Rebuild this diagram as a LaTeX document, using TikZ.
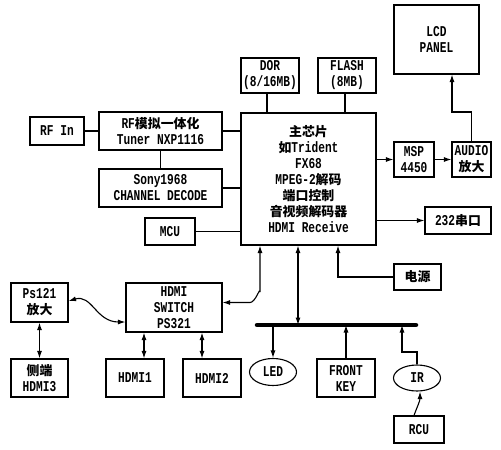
\documentclass[tikz,border=0pt]{standalone}
\usepackage{fontspec}
\setmainfont{Liberation Mono}[FakeStretch=0.745]
\newfontfamily\cjkf[Scale=0.86]{Noto Sans CJK SC}
\newcommand\zh[1]{{\cjkf #1}}
\usetikzlibrary{arrows.meta,shapes.geometric,calc}
\begin{document}
\begin{tikzpicture}[x=1pt,y=-1pt,
  every node/.style={font=\fontsize{15}{16}\selectfont\bfseries, align=center, inner sep=1pt},
  box/.style={draw, line width=1.1pt, rectangle},
  oval/.style={draw, line width=1.1pt, ellipse},
  ln/.style={line width=1.1pt},
  arr/.style={ln, -{Latex[length=7.5pt,width=5pt]}},
  darr/.style={ln, {Latex[length=7.5pt,width=5pt]}-{Latex[length=7.5pt,width=5pt]}},
]
\useasboundingbox (0,0) rectangle (501,450);

% boxes
\node[box, minimum width=54pt, minimum height=28pt] (rfin) at (57,131) {RF In};
\node[box, minimum width=123pt, minimum height=38pt] (tuner) at (160.5,131) {RF\zh{模拟一体化}\\Tuner NXP1116};
\node[box, minimum width=123pt, minimum height=38pt] (sony) at (160.5,188) {Sony1968\\CHANNEL DECODE};
\node[box, minimum width=50pt, minimum height=27pt] (mcu) at (170,231.5) {MCU};
\node[box, minimum width=135pt, minimum height=132pt] (main) at (308.5,179) {\zh{主芯片}\\\zh{如}Trident\\FX68\\MPEG-2\zh{解码}\\\zh{端口控制}\\\zh{音视频解码器}\\HDMI Receive};
\node[box, minimum width=58pt, minimum height=35pt] (dor) at (270,75.5) {DOR\\(8/16MB)};
\node[box, minimum width=58pt, minimum height=35pt] (flash) at (347,75.5) {FLASH\\(8MB)};
\node[box, minimum width=85pt, minimum height=69pt] (lcd) at (436.5,39.5) {LCD\\PANEL};
\node[box, minimum width=40pt, minimum height=35pt] (msp) at (414,159.5) {MSP\\4450};
\node[box, minimum width=39pt, minimum height=35pt] (audio) at (471.5,159.5) {AUDIO\\\zh{放大}};
\node[box, minimum width=66pt, minimum height=27pt] (ser) at (458,220.5) {232\zh{串口}};
\node[box, minimum width=47pt, minimum height=26pt] (power) at (417.5,277) {\zh{电源}};
\node[box, minimum width=57pt, minimum height=39pt] (ps) at (39.5,302.5) {Ps121\\\zh{放大}};
\node[box, minimum width=96pt, minimum height=49pt] (hsw) at (174,307.5) {HDMI\\SWITCH\\PS321};
\node[box, minimum width=57pt, minimum height=38pt] (h3) at (39.5,378) {\zh{侧端}\\HDMI3};
\node[box, minimum width=58pt, minimum height=38pt] (h1) at (135,378) {HDMI1};
\node[box, minimum width=58pt, minimum height=38pt] (h2) at (212,378) {HDMI2};
\node[box, minimum width=58pt, minimum height=38pt] (fk) at (346,378) {FRONT\\KEY};
\node[box, minimum width=50pt, minimum height=27pt] (rcu) at (419,429.5) {RCU};
\node[oval, minimum width=47pt, minimum height=27pt] (led) at (273,372) {LED};
\node[oval, minimum width=47pt, minimum height=26pt] (ir) at (417,378) {IR};

% bus
\coordinate (busL) at (257,325);
\coordinate (busR) at (416,325);
\coordinate (busM) at (298,325);
\coordinate (irturn) at (402,352);
\coordinate (lcdturn) at (452,112);
\coordinate (sw1) at (250,302.5);
\coordinate (sw2) at (260,292);
\draw[line width=4.5pt, line cap=round] (busL) -- (busR);

% connectors
\draw[ln] (rfin) -- (tuner);
\draw[ln] (tuner.east) -- (tuner.east -| main.west);
\draw[ln] (tuner) -- (sony);
\draw[ln] (sony.east) -- (sony.east -| main.west);
\draw[ln] (mcu.east) -- (mcu.east -| main.west);
\draw[ln] ([xshift=-3pt]dor.south) -- ([xshift=-3pt]dor.south |- main.north);
\draw[ln] ([xshift=-2pt]flash.south) -- ([xshift=-2pt]flash.south |- main.north);
\draw[arr] (msp.west -| main.east) -- (msp.west);
\draw[arr] (msp) -- (audio);
\draw[arr] (audio.north) |- (lcdturn) -- (lcdturn |- lcd.south);
\draw[arr] (ser.west -| main.east) -- (ser.west);
\draw[arr] (power.west) -| ([xshift=29.5pt]main.south);
\draw[darr] (main.south -| busM) -- (busM);
\draw[darr] ([yshift=5pt]hsw.east) -- (sw1) to[out=0,in=90] (sw2) -- (sw2 |- main.south);
\draw[arr] (led.north |- busL) -- (led.north);
\draw[arr] (fk.north) -- (fk.north |- busL);
\draw[arr] (ir.north) |- (irturn) -- (irturn |- busL);
\draw[arr] ([xshift=-5pt]rcu.north) to[out=70,in=-90] ([xshift=3pt]ir.south);
\draw[darr] (ps) -- (h3);
\draw[darr] ([xshift=9pt]h1.north) -- ([xshift=9pt]h1.north |- hsw.south);
\draw[darr] ([xshift=-10pt]h2.north) -- ([xshift=-10pt]h2.north |- hsw.south);
\draw[darr] ([yshift=1.5pt]ps.east) .. controls (92,294) and (96,322) .. ([yshift=-14.5pt]hsw.west);
\end{tikzpicture}
\end{document}
